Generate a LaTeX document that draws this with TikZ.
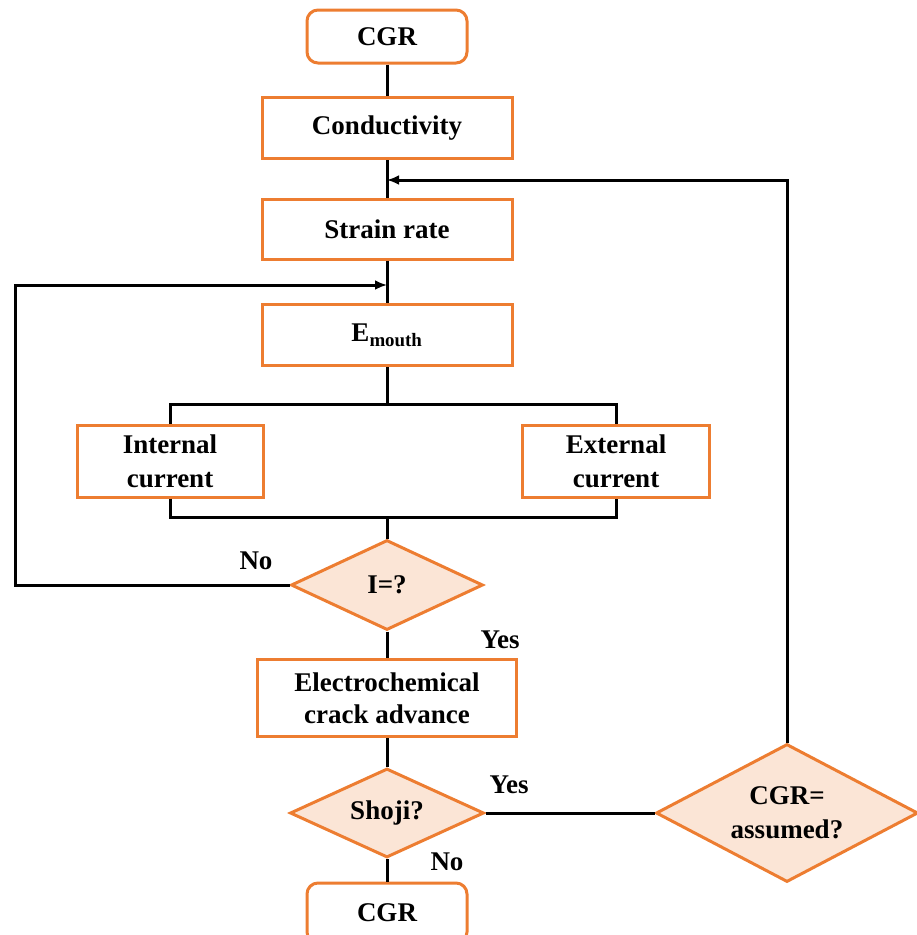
\documentclass[tikz,border=0pt]{standalone}
\usepackage{fontspec}
\setmainfont{Liberation Serif}
\usetikzlibrary{shapes.geometric,arrows.meta}
\definecolor{boxorange}{HTML}{ED7D31}
\definecolor{diafill}{HTML}{FBE5D6}
\tikzset{
  conn/.style={line width=3pt,black},
  arr/.style={conn,-{Latex[length=12pt,width=10pt]}},
  stepbox/.style={draw=boxorange,line width=3pt,fill=white,rectangle,inner sep=0pt,align=center,
     font=\fontsize{27}{31}\selectfont\bfseries},
  endbox/.style={stepbox,rounded corners=11pt},
  decide/.style={draw=boxorange,line width=3pt,fill=diafill,diamond,inner sep=0pt,align=center,
     font=\fontsize{27}{31}\selectfont\bfseries},
  lbl/.style={font=\fontsize{27}{31}\selectfont\bfseries,inner sep=0pt}
}
\begin{document}
\begin{tikzpicture}[x=1pt,y=-1pt]
\useasboundingbox (0,0) rectangle (917,935);
\clip (0,0) rectangle (917,935);
% nodes
\node[endbox,minimum width=160pt,minimum height=53pt] (cgr1) at (387,36.5) {CGR};
\node[stepbox,minimum width=250pt,minimum height=61pt] (cond) at (387,128) {Conductivity};
\node[stepbox,minimum width=250pt,minimum height=60pt] (strain) at (387,229) {Strain rate};
\node[stepbox,minimum width=250pt,minimum height=61pt] (emouth) at (387,335) {E\textsubscript{mouth}};
\node[stepbox,minimum width=186pt,minimum height=72pt] (internal) at (170,461) {Internal\\[3pt]current};
\node[stepbox,minimum width=187pt,minimum height=72pt] (external) at (616,461) {External\\[3pt]current};
\node[decide,minimum width=192pt,minimum height=90pt,aspect=2.13] (idiam) at (387,585) {I=?};
\node[stepbox,minimum width=259pt,minimum height=77pt] (electro) at (387,698) {Electrochemical\\[1pt]crack advance};
\node[decide,minimum width=194pt,minimum height=89pt,aspect=2.18] (shoji) at (387,813) {Shoji?};
\node[decide,minimum width=262pt,minimum height=138pt,aspect=1.9] (assumed) at (787,813) {CGR=\\[3pt]assumed?};
\node[endbox,minimum width=160pt,minimum height=60pt] (cgr2) at (387,913) {CGR};
% coordinates
\coordinate (j1) at (387,180);
\coordinate (j2) at (387,285);
\coordinate (bt) at (387,404);
\coordinate (btl) at (170,404);
\coordinate (btr) at (616,404);
\coordinate (bb) at (387,517);
\coordinate (bbl) at (170,517);
\coordinate (bbr) at (616,517);
\coordinate (lx) at (15,585);
\coordinate (ly) at (15,285);
\coordinate (rx) at (787,180);
% connectors
\draw[conn] (cgr1) -- (cond);
\draw[conn] (cond) -- (strain);
\draw[conn] (strain) -- (emouth);
\draw[conn] (emouth) -- (bt);
\draw[conn] (internal.north) -- (btl) -- (btr) -- (external.north);
\draw[conn] (internal.south) -- (bbl) -- (bbr) -- (external.south);
\draw[conn] (bb) -- (idiam.north);
\draw[conn] (idiam) -- (electro);
\draw[conn] (electro) -- (shoji);
\draw[conn] (shoji) -- (cgr2);
\draw[conn] (shoji.east) -- (assumed.west);
\draw[arr] (idiam.west) -- (lx) -- (ly) -- (j2);
\draw[arr] (assumed.north) -- (rx) -- (j1);
% labels
\node[lbl] (no1) at (256,561) {No};
\node[lbl] (yes1) at (500,640) {Yes};
\node[lbl] (yes2) at (509,785) {Yes};
\node[lbl] (no2) at (447,862) {No};
\end{tikzpicture}
\end{document}
